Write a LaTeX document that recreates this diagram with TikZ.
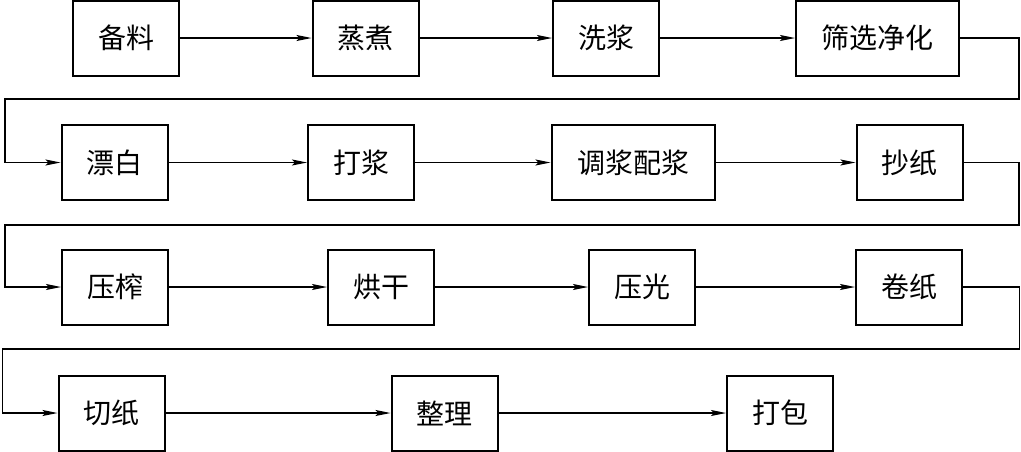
\documentclass[tikz,border=0pt]{standalone}
\usepackage{fontspec}
\newfontfamily\cjk{Noto Sans CJK SC}
\usetikzlibrary{arrows.meta}
\begin{document}
\begin{tikzpicture}[x=1pt,y=-1pt,
  stepbox/.style={draw,line width=2pt,minimum height=75pt,inner sep=0pt,font=\cjk\fontsize{28}{28}\selectfont},
  short/.style={stepbox,minimum width=106pt},
  long/.style={stepbox,minimum width=163pt},
  conn/.style={line width=1.2pt,-{Stealth[length=15pt,width=6pt,inset=3pt]}}]
\useasboundingbox (0,0) rectangle (1021,451);
% row 1
\node[short] (b1) at (126,38) {备料};
\node[short] (b2) at (365.5,38) {蒸煮};
\node[short] (b3) at (606,38) {洗浆};
\node[long]  (b4) at (877.5,38) {筛选净化};
% row 2
\node[short] (c1) at (114.5,162.5) {漂白};
\node[short] (c2) at (361,162.5) {打浆};
\node[long]  (c3) at (633,162.5) {调浆配浆};
\node[short] (c4) at (909.5,162.5) {抄纸};
% row 3
\node[short] (d1) at (115,287) {压榨};
\node[short] (d2) at (381,287) {烘干};
\node[short] (d3) at (642,287) {压光};
\node[short] (d4) at (909,287) {卷纸};
% row 4
\node[short] (e1) at (111.5,413) {切纸};
\node[short] (e2) at (444.5,413) {整理};
\node[short] (e3) at (780,413) {打包};
% turning points
\coordinate (r1) at (1019,99);
\coordinate (l1) at (5,99);
\coordinate (r2) at (1019,225);
\coordinate (l2) at (5,225);
\coordinate (r3) at (1019.5,349);
\coordinate (l3) at (2.5,349);
% connectors
\draw[conn] (b1) -- (b2);
\draw[conn] (b2) -- (b3);
\draw[conn] (b3) -- (b4);
\draw[conn] (b4.east) -| (r1) -- (l1) |- (c1.west);
\draw[conn] (c1) -- (c2);
\draw[conn] (c2) -- (c3);
\draw[conn] (c3) -- (c4);
\draw[conn] (c4.east) -| (r2) -- (l2) |- (d1.west);
\draw[conn] (d1) -- (d2);
\draw[conn] (d2) -- (d3);
\draw[conn] (d3) -- (d4);
\draw[conn] (d4.east) -| (r3) -- (l3) |- (e1.west);
\draw[conn] (e1) -- (e2);
\draw[conn] (e2) -- (e3);
\end{tikzpicture}
\end{document}
